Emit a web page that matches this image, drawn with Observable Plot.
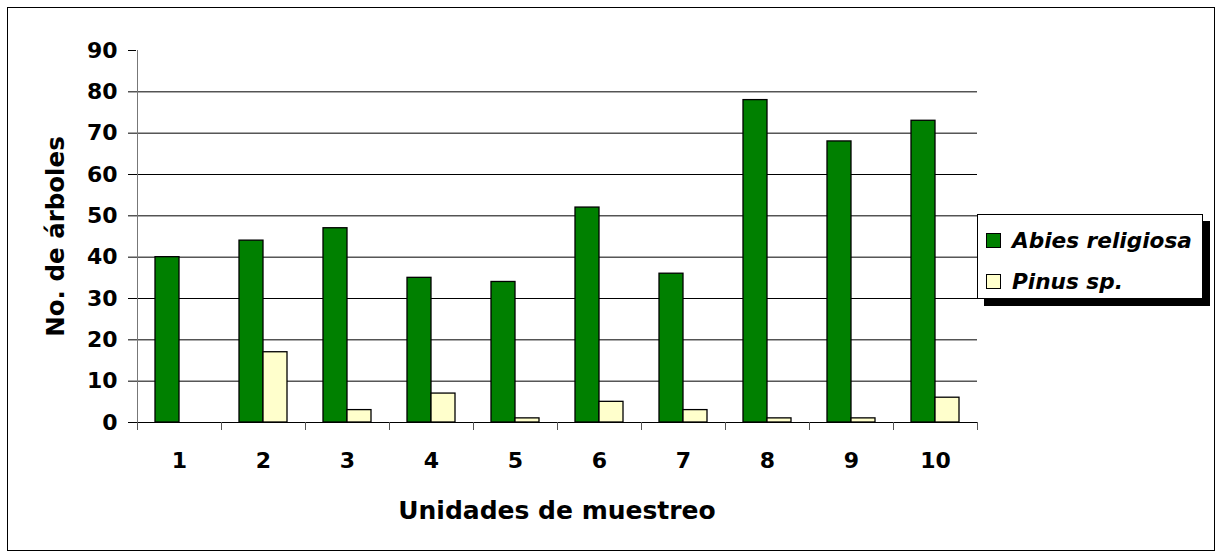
<!DOCTYPE html>
<html>
<head>
<meta charset="utf-8">
<script src="https://cdn.jsdelivr.net/npm/d3@7"></script>
<script src="https://cdn.jsdelivr.net/npm/@observablehq/plot@0.6"></script>
<style>
  body { margin: 0; background: #fff; }
  #chart { position: relative; width: 1221px; height: 557px; }
  .legend {
    position: absolute; left: 977px; top: 214px; width: 224px; height: 83px;
    border: 1px solid #000; background: #fff; box-shadow: 7px 7px 0 #000;
    font-family: "DejaVu Sans"; font-weight: bold; font-style: italic; font-size: 21.6px; color: #000;
  }
  .item { position: absolute; left: 8px; height: 24px; display: flex; align-items: center; white-space: nowrap; }
  .swatch { width: 13px; height: 13px; border: 1px solid #000; margin-right: 11px; flex: none; }
</style>
</head>
<body>
<div id="chart"></div>
<script>
// Sampling units and tree counts per species
const units = ["1", "2", "3", "4", "5", "6", "7", "8", "9", "10"];
const series = ["Abies religiosa", "Pinus sp."];
const abies = [40, 44, 47, 35, 34, 52, 36, 78, 68, 73];
const pinus = [0, 17, 3, 7, 1, 5, 3, 1, 1, 6];
const seriesColors = ["#008000", "#ffffcc"];
const yTicks = [0, 10, 20, 30, 40, 50, 60, 70, 80, 90];
const yTitle = "No. de árboles";
const xTitle = "Unidades de muestreo";

const counts = [abies, pinus];
const rows = units.flatMap((u, i) => series.map((s, k) => ({unit: u, species: s, n: counts[k][i]})));

const halfStep = 42; // half of a category band, for the boundary ticks

const chart = Plot.plot({
  width: 1221,
  height: 557,
  marginLeft: 136,
  marginRight: 244,
  marginTop: 50,
  marginBottom: 135,
  style: {fontFamily: "DejaVu Sans", fontWeight: "bold", fontSize: "22px", color: "#000", background: "#fff"},
  x: {domain: units, paddingInner: 36 / 84, paddingOuter: 18 / 84, label: null},
  y: {domain: [0, 90], label: null},
  color: {domain: series, range: seriesColors},
  marks: [
    // outer chart border
    Plot.frame({stroke: "#000", insetLeft: -129, insetTop: -43, insetRight: -237, insetBottom: -128}),
    // horizontal gridlines
    Plot.ruleY(yTicks.filter(v => v > 0 && v < 90), {stroke: "#000"}),
    // grouped bars: first series on the left half of the band, second on the right
    ...series.map((s, k) => Plot.barY(rows.filter(d => d.species === s), {
      x: "unit", y: "n", fill: "species", stroke: "#000", strokeWidth: 1.3,
      insetLeft: k ? 24 : 0, insetRight: k ? 0 : 24
    })),
    Plot.ruleY([0], {stroke: "#000"}),
    // value axis line and category boundary ticks
    Plot.ruleX([units[0]], {dx: -halfStep, y1: 0, y2: 90, stroke: "#777"}),
    Plot.ruleX(units, {dx: -halfStep, y1: 0, y2: 0, insetBottom: -8, stroke: "#555"}),
    Plot.ruleX([units[units.length - 1]], {dx: halfStep, y1: 0, y2: 0, insetBottom: -8, stroke: "#555"}),
    Plot.axisY({ticks: yTicks, tickSize: 8, tickPadding: 11, label: null}),
    Plot.axisX({tickSize: 0, tickPadding: 30, label: null}),
    Plot.text([yTitle], {text: d => d, frameAnchor: "left", textAnchor: "middle", rotate: -90, dx: -80, fontSize: 24.5}),
    Plot.text([xTitle], {text: d => d, frameAnchor: "bottom", dy: 96, fontSize: 25})
  ]
});

const holder = document.getElementById("chart");
holder.appendChild(chart);

// legend box with drop shadow, built from the plot's color scale
const color = chart.scale("color");
const legend = document.createElement("div");
legend.className = "legend";
const rowTops = [13, 54];
color.domain.forEach((name, i) => {
  const item = document.createElement("div");
  item.className = "item";
  item.style.top = rowTops[i] + "px";
  const sw = document.createElement("span");
  sw.className = "swatch";
  sw.style.background = color.range[i];
  const label = document.createElement("span");
  label.textContent = name;
  item.append(sw, label);
  legend.appendChild(item);
});
holder.appendChild(legend);
</script>
</body>
</html>
